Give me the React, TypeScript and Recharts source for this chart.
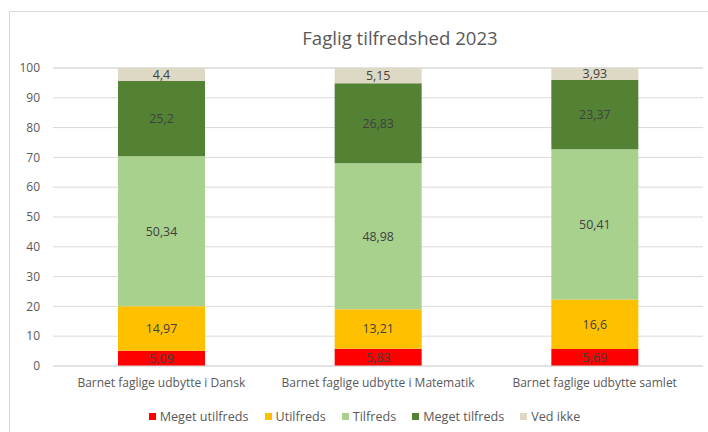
import { BarChart, Bar, XAxis, YAxis, CartesianGrid, Legend, LabelList } from "recharts";

const categories = [
  "Barnet faglige udbytte i Dansk",
  "Barnet faglige udbytte i Matematik",
  "Barnet faglige udbytte samlet",
];
const megetUtilfreds = [5.09, 5.83, 5.69];
const utilfreds = [14.97, 13.21, 16.6];
const tilfreds = [50.34, 48.98, 50.41];
const megetTilfreds = [25.2, 26.83, 23.37];
const vedIkke = [4.4, 5.15, 3.93];
const yTicks = [0, 10, 20, 30, 40, 50, 60, 70, 80, 90, 100];

const series = [
  { key: "megetUtilfreds", name: "Meget utilfreds", color: "#FF0000" },
  { key: "utilfreds", name: "Utilfreds", color: "#FFC000" },
  { key: "tilfreds", name: "Tilfreds", color: "#A9D18E" },
  { key: "megetTilfreds", name: "Meget tilfreds", color: "#548235" },
  { key: "vedIkke", name: "Ved ikke", color: "#DDD9C4" },
];

const data = categories.map((name, i) => ({
  name,
  megetUtilfreds: megetUtilfreds[i],
  utilfreds: utilfreds[i],
  tilfreds: tilfreds[i],
  megetTilfreds: megetTilfreds[i],
  vedIkke: vedIkke[i],
}));

const FONT = "'Open Sans', 'Liberation Sans', sans-serif";

const fmt = (v: any) => String(v).replace(".", ",");

function LegendContent() {
  return (
    <div
      style={{
        display: "flex",
        justifyContent: "center",
        alignItems: "center",
        height: 20,
        paddingLeft: 32,
        fontFamily: FONT,
        fontSize: 12.6,
        color: "#595959",
      }}
    >
      {series.map((s) => (
        <div key={s.key} style={{ display: "flex", alignItems: "center", marginRight: 16 }}>
          <span style={{ width: 7, height: 7, background: s.color, marginRight: 4, display: "inline-block" }} />
          <span>{s.name}</span>
        </div>
      ))}
    </div>
  );
}

export default function App() {
  return (
    <div style={{ position: "fixed", left: 0, top: 0, width: 708, height: 432, overflow: "hidden", background: "#fff" }}>
      <div
        style={{
          position: "absolute",
          left: 9,
          top: 11,
          width: 710,
          height: 430,
          border: "1px solid #D9D9D9",
        }}
      >
        <div
          style={{
            position: "absolute",
            left: 0,
            width: 780,
            top: 13,
            textAlign: "center",
            fontFamily: FONT,
            fontSize: 18.6,
            color: "#595959",
          }}
        >
          Faglig tilfredshed 2023
        </div>
        <BarChart
          width={700}
          height={420}
          data={data}
          barCategoryGap="30%"
          margin={{ top: 56, right: 7, left: 0, bottom: 6 }}
        >
          <CartesianGrid vertical={false} stroke="#D9D9D9" />
          <XAxis
            dataKey="name"
            height={40}
            tickLine={false}
            axisLine={{ stroke: "#D9D9D9" }}
            tickSize={0}
            tickMargin={12}
            tick={{ fill: "#595959", fontSize: 12, fontFamily: FONT }}
            interval={0}
          />
          <YAxis
            width={43}
            domain={[0, 100]}
            ticks={yTicks}
            tickLine={false}
            axisLine={false}
            tickSize={0}
            tickMargin={13}
            tick={{ fill: "#595959", fontSize: 12, fontFamily: FONT }}
          />
          <Legend verticalAlign="bottom" content={<LegendContent />} />
          {series.map((s) => (
            <Bar key={s.key} dataKey={s.key} name={s.name} stackId="a" fill={s.color} isAnimationActive={false}>
              <LabelList
                dataKey={s.key}
                position="center"
                formatter={fmt}
                fill="#404040"
                style={{ fontSize: 12.4, fontFamily: FONT }}
              />
            </Bar>
          ))}
        </BarChart>
      </div>
    </div>
  );
}
